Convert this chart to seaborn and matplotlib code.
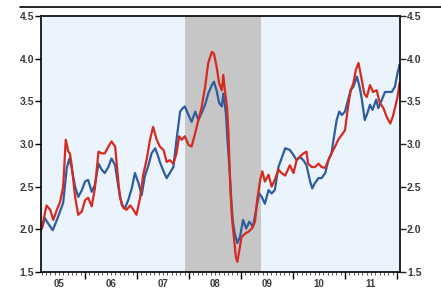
import numpy as np
import pandas as pd
import matplotlib
matplotlib.use("Agg")
import matplotlib.pyplot as plt
from matplotlib.ticker import FixedLocator, NullFormatter
import seaborn as sns

# ---------------------------------------------------------------------------
# data (decimal year, yield %)
# ---------------------------------------------------------------------------
red_t = [2005.17, 2005.26, 2005.33, 2005.39, 2005.46, 2005.52, 2005.58, 2005.63,
         2005.68, 2005.71, 2005.74, 2005.81, 2005.87, 2005.94, 2006.00, 2006.06,
         2006.13, 2006.19, 2006.26, 2006.32, 2006.38, 2006.45, 2006.51, 2006.58,
         2006.62, 2006.67, 2006.74, 2006.80, 2006.87, 2006.93, 2006.99, 2007.06,
         2007.12, 2007.19, 2007.25, 2007.31, 2007.38, 2007.44, 2007.51, 2007.57,
         2007.63, 2007.70, 2007.76, 2007.81, 2007.86, 2007.92, 2007.99, 2008.05,
         2008.12, 2008.18, 2008.24, 2008.31, 2008.37, 2008.44, 2008.48, 2008.53,
         2008.58, 2008.63, 2008.66, 2008.69, 2008.73, 2008.76, 2008.78, 2008.80,
         2008.83, 2008.87, 2008.90, 2008.93, 2008.97, 2009.01, 2009.08, 2009.14,
         2009.21, 2009.27, 2009.31, 2009.37, 2009.41, 2009.46, 2009.53, 2009.59,
         2009.65, 2009.72, 2009.78, 2009.85, 2009.94, 2010.01, 2010.07, 2010.13,
         2010.20, 2010.26, 2010.29, 2010.36, 2010.42, 2010.49, 2010.55, 2010.62,
         2010.68, 2010.74, 2010.81, 2010.87, 2010.94, 2011.00, 2011.06, 2011.11,
         2011.16, 2011.21, 2011.26, 2011.31, 2011.37, 2011.42, 2011.48, 2011.54,
         2011.61, 2011.67, 2011.74, 2011.80, 2011.87, 2011.92, 2011.96, 2012.01,
         2012.05]
red_v = [2.01, 2.28, 2.23, 2.11, 2.23, 2.32, 2.50, 3.05,
         2.91, 2.89, 2.77, 2.38, 2.17, 2.21, 2.34, 2.37,
         2.27, 2.48, 2.91, 2.89, 2.89, 2.97, 3.03, 2.97,
         2.70, 2.38, 2.25, 2.23, 2.28, 2.23, 2.17, 2.37,
         2.64, 2.83, 3.05, 3.20, 3.05, 2.97, 2.93, 2.79,
         2.81, 2.77, 2.89, 3.09, 3.05, 3.09, 2.99, 2.97,
         3.13, 3.28, 3.42, 3.67, 3.95, 4.08, 4.06, 3.91,
         3.71, 3.63, 3.81, 3.63, 3.44, 3.13, 2.73, 2.42,
         2.11, 1.87, 1.68, 1.62, 1.76, 1.91, 1.95, 1.97,
         2.01, 2.09, 2.34, 2.58, 2.68, 2.56, 2.64, 2.50,
         2.58, 2.70, 2.66, 2.63, 2.75, 2.66, 2.81, 2.85,
         2.89, 2.91, 2.77, 2.73, 2.73, 2.77, 2.73, 2.72,
         2.81, 2.89, 2.97, 3.05, 3.11, 3.16, 3.44, 3.63,
         3.71, 3.87, 3.95, 3.79, 3.59, 3.55, 3.69, 3.61,
         3.63, 3.48, 3.42, 3.32, 3.24, 3.32, 3.42, 3.55,
         3.72]

blue_t = [2005.17, 2005.23, 2005.29, 2005.38, 2005.46, 2005.52, 2005.58, 2005.65,
          2005.70, 2005.74, 2005.81, 2005.87, 2005.94, 2006.00, 2006.06, 2006.13,
          2006.19, 2006.26, 2006.32, 2006.38, 2006.45, 2006.51, 2006.58, 2006.64,
          2006.71, 2006.77, 2006.83, 2006.90, 2006.96, 2007.03, 2007.09, 2007.15,
          2007.22, 2007.28, 2007.35, 2007.41, 2007.44, 2007.51, 2007.57, 2007.63,
          2007.70, 2007.76, 2007.83, 2007.88, 2007.92, 2007.99, 2008.05, 2008.12,
          2008.18, 2008.24, 2008.31, 2008.37, 2008.44, 2008.48, 2008.53, 2008.58,
          2008.63, 2008.66, 2008.71, 2008.74, 2008.78, 2008.81, 2008.84, 2008.88,
          2008.93, 2008.98, 2009.04, 2009.10, 2009.16, 2009.23, 2009.29, 2009.35,
          2009.40, 2009.46, 2009.53, 2009.59, 2009.65, 2009.72, 2009.78, 2009.85,
          2009.94, 2010.01, 2010.07, 2010.13, 2010.20, 2010.26, 2010.33, 2010.37,
          2010.42, 2010.49, 2010.55, 2010.62, 2010.68, 2010.74, 2010.79, 2010.84,
          2010.89, 2010.94, 2011.00, 2011.06, 2011.11, 2011.16, 2011.23, 2011.28,
          2011.32, 2011.38, 2011.43, 2011.48, 2011.53, 2011.60, 2011.64, 2011.71,
          2011.77, 2011.83, 2011.90, 2011.96, 2012.01, 2012.05]
blue_v = [2.01, 2.13, 2.07, 1.99, 2.11, 2.21, 2.31, 2.72,
          2.83, 2.73, 2.50, 2.38, 2.46, 2.56, 2.58, 2.44,
          2.52, 2.77, 2.70, 2.66, 2.73, 2.83, 2.75, 2.50,
          2.28, 2.25, 2.34, 2.48, 2.66, 2.54, 2.40, 2.62,
          2.75, 2.89, 2.95, 2.85, 2.79, 2.68, 2.60, 2.66,
          2.73, 3.05, 3.38, 3.42, 3.44, 3.34, 3.26, 3.38,
          3.28, 3.36, 3.46, 3.59, 3.69, 3.73, 3.63, 3.48,
          3.44, 3.59, 3.36, 3.05, 2.70, 2.38, 2.11, 1.95,
          1.84, 1.91, 2.11, 2.01, 2.09, 2.03, 2.23, 2.42,
          2.38, 2.30, 2.46, 2.42, 2.46, 2.73, 2.83, 2.95,
          2.93, 2.87, 2.81, 2.85, 2.81, 2.75, 2.56, 2.48,
          2.54, 2.60, 2.60, 2.66, 2.81, 2.89, 3.09, 3.28,
          3.38, 3.34, 3.38, 3.52, 3.63, 3.67, 3.79, 3.67,
          3.54, 3.28, 3.36, 3.46, 3.40, 3.52, 3.42, 3.52,
          3.61, 3.61, 3.61, 3.67, 3.83, 3.93]

years = [2005, 2006, 2007, 2008, 2009, 2010, 2011, 2012]
year_labels = ["05", "06", "07", "08", "09", "10", "11"]
recession = (2007.92, 2009.38)
y_ticks = [1.5, 2.0, 2.5, 3.0, 3.5, 4.0, 4.5]

df = pd.concat([
    pd.DataFrame({"t": blue_t, "v": blue_v, "s": "blue"}),
    pd.DataFrame({"t": red_t, "v": red_v, "s": "red"}),
])

# ---------------------------------------------------------------------------
# figure
# ---------------------------------------------------------------------------
sns.set_style("white")
plt.rcParams["font.family"] = ["Liberation Sans", "DejaVu Sans"]

fig = plt.figure(figsize=(4.41, 2.89), dpi=100)
ax = fig.add_axes([41 / 441, 1 - 272 / 289, 359 / 441, 256 / 289])
ax.set_facecolor("#EBF3FD")

ax.axvspan(*recession, color="#C6C6C6", zorder=0, lw=0)

sns.lineplot(data=df, x="t", y="v", hue="s", units="s", estimator=None,
             palette={"blue": "#2E5C9E", "red": "#D62A1F"},
             linewidth=1.6, legend=False, ax=ax, sort=False)

ax.set_xlim(2005.154, 2012.058)
ax.set_ylim(1.5, 4.5)
ax.set_xlabel("")
ax.set_ylabel("")

for sp in ax.spines.values():
    sp.set_color("black")
    sp.set_linewidth(1.2)

lab_kw = dict(fontsize=7.5, fontweight="bold", color="#3C3C3C")

# y axis on both sides
ax.set_yticks(y_ticks)
ax.set_yticklabels([f"{v:.1f}" for v in y_ticks], **lab_kw)
ax.tick_params(axis="y", which="major", direction="out", length=4, width=1,
               color="black", pad=1, left=True, right=True,
               labelleft=True, labelright=False)
ax2 = ax.twinx()
ax2.set_ylim(ax.get_ylim())
ax2.set_yticks(y_ticks)
ax2.set_yticklabels([f"{v:.1f}" for v in y_ticks], **lab_kw)
ax2.tick_params(axis="y", direction="out", length=4, width=1, pad=1)
for sp in ax2.spines.values():
    sp.set_visible(False)

# x axis: year ticks, monthly minor ticks, labels at mid-year
ax.xaxis.set_major_locator(FixedLocator(years))
ax.xaxis.set_major_formatter(NullFormatter())
months = [y + m / 12 for y in range(2005, 2012) for m in range(1, 12)]
ax.xaxis.set_minor_locator(FixedLocator(months))
ax.tick_params(axis="x", which="major", direction="out", length=5, width=1,
               color="black", bottom=True)
ax.tick_params(axis="x", which="minor", direction="out", length=2, width=0.7,
               color="#555555", bottom=True)

# year labels kept whole inside the canvas, tight under the ticks
sec = ax.secondary_xaxis("bottom")
sec.set_xticks([y + 0.5 for y in years[:-1]])
sec.set_xticklabels(year_labels, fontsize=7, fontweight="bold", color="#3C3C3C")
sec.tick_params(length=0, pad=5)
sec.spines["bottom"].set_visible(False)

# header rule above the chart
fig.add_artist(plt.Line2D([20 / 441, 1.0], [1 - 7 / 289, 1 - 7 / 289],
                          color="black", lw=1.2))

fig.savefig("out.png", dpi=100)
